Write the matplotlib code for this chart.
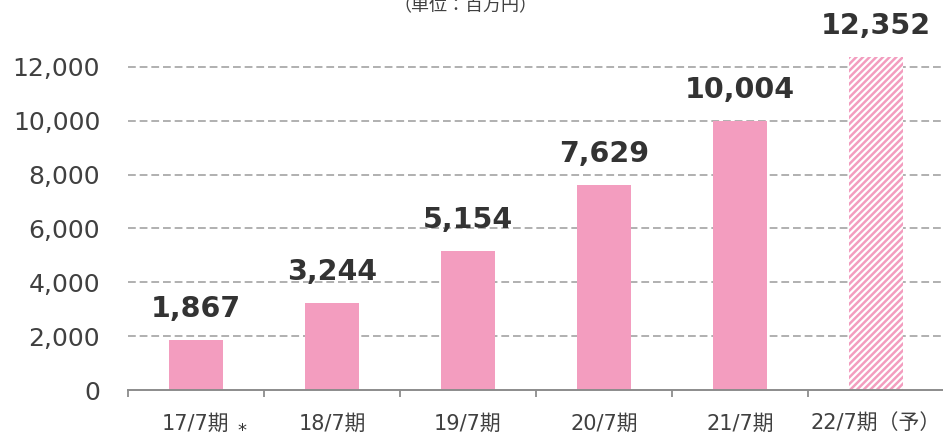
import matplotlib
matplotlib.use("Agg")
import matplotlib.pyplot as plt
from matplotlib.ticker import FixedLocator, FuncFormatter

categories = ["17/7期", "18/7期", "19/7期", "20/7期", "21/7期", "22/7期（予）"]
values = [1867, 3244, 5154, 7629, 10004, 12352]
forecast = [False, False, False, False, False, True]
yticks = [0, 2000, 4000, 6000, 8000, 10000, 12000]
unit_label = "（単位：百万円）"
note_mark = "*"

PINK = "#F39DBF"
DARK = "#333333"
GRAY_TXT = "#404040"

plt.rcParams["font.family"] = ["DejaVu Sans", "Noto Sans CJK JP"]
plt.rcParams["hatch.linewidth"] = 1.8

W, H, DPI = 943, 436, 100
fig = plt.figure(figsize=(W / DPI, H / DPI), dpi=DPI)
ax = fig.add_axes([128 / W, 1 - 390 / H, (944 - 128) / W, (390 - 40) / H])

x = list(range(len(categories)))
for xi, v, f in zip(x, values, forecast):
    if f:
        ax.bar(xi, v, width=0.40, facecolor="white", edgecolor=PINK,
               hatch="/////", linewidth=0, zorder=3)
    else:
        ax.bar(xi, v, width=0.40, color=PINK, linewidth=0, zorder=3)
    ax.annotate(f"{v:,}", xy=(xi, v), xytext=(0, 23), textcoords="offset pixels",
                ha="center", va="baseline", fontsize=20.5, fontweight="bold",
                color=DARK, annotation_clip=False)

ax.set_xlim(-0.5, 5.5)
ax.set_ylim(0, 13000)

# grid lines
for yt in yticks[1:]:
    ax.axhline(yt, color="#B0B0B0", lw=1.4, ls=(0, (4.0, 2.0)), zorder=1)

ax.yaxis.set_major_locator(FixedLocator(yticks))
ax.yaxis.set_major_formatter(FuncFormatter(lambda v, p: f"{int(v):,}"))
ax.tick_params(axis="y", length=0, pad=20, labelsize=18, labelcolor=GRAY_TXT)

ax.set_xticks(x)
ax.set_xticklabels(categories)
ax.set_xticks([i - 0.5 for i in range(len(categories) + 1)], minor=True)
ax.tick_params(axis="x", which="major", length=0, pad=17, labelsize=15,
               labelcolor=GRAY_TXT)
ax.tick_params(axis="x", which="minor", length=5, width=1.3, color="#8C8C8C",
               direction="out")

for s in ["left", "right", "top"]:
    ax.spines[s].set_visible(False)
ax.spines["bottom"].set_color("#8C8C8C")
ax.spines["bottom"].set_linewidth(1.4)
ax.spines["bottom"].set_zorder(4)

fig.text(465 / W, 1 - 11 / H, unit_label, ha="center", va="baseline",
         fontsize=13, color=GRAY_TXT, family=["Noto Sans CJK JP", "DejaVu Sans"])
fig.text(242 / W, 1 - 435.5 / H, note_mark, ha="center", va="baseline",
         fontsize=13, color=DARK)

fig.savefig("out.png", dpi=DPI)
